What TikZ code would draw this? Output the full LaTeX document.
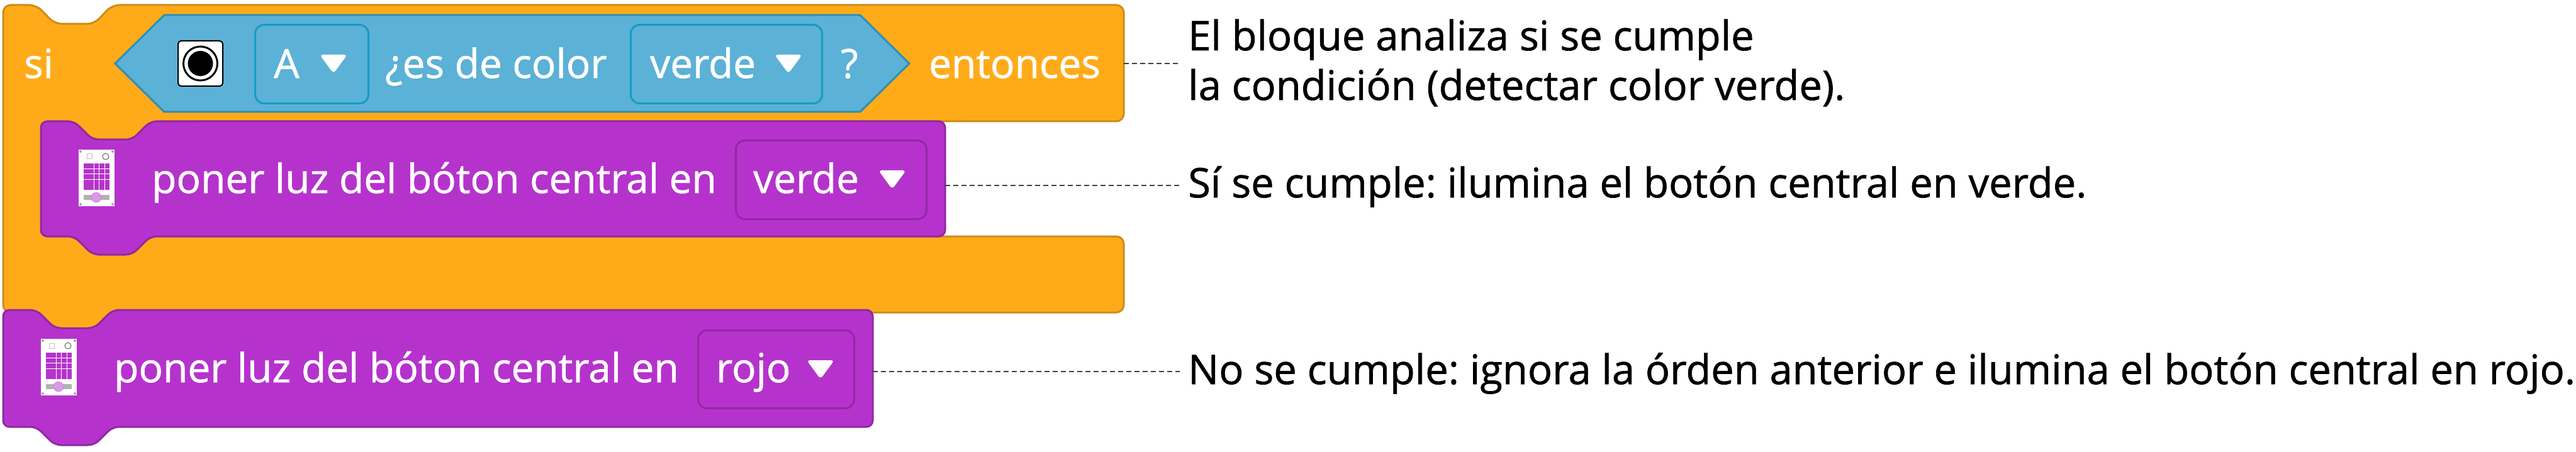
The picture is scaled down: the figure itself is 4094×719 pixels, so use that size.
\documentclass[tikz,border=0pt]{standalone}
\usepackage{fontspec}
\setmainfont[FakeBold=1]{Open Sans}
\definecolor{ctrlfill}{HTML}{FFAB19}
\definecolor{ctrledge}{HTML}{CF8B17}
\definecolor{huefill}{HTML}{B533CC}
\definecolor{hueedge}{HTML}{9128A3}
\definecolor{sensefill}{HTML}{5CB1D6}
\definecolor{senseedge}{HTML}{2E8EB8}
\definecolor{senseline}{HTML}{139CC6}
\tikzset{
	x=1pt,y=-1pt,
	blocktext/.style={anchor=base west,inner sep=0pt,text=white,font=\fontsize{64}{64}\selectfont},
	notetext/.style={anchor=base west,inner xsep=13pt,inner ysep=0pt,align=left,text=black,font=\frenchspacing\fontsize{65}{79}\selectfont},
	dropbox/.style={anchor=north west,draw,line width=3pt,rounded corners=14pt,inner sep=0pt},
	leader/.style={draw=black!75,line width=1.5pt,dash pattern=on 8pt off 5pt},
}
% stack block with its notch on top and its tab below
\newcommand{\hueblock}[4]{
	\draw [fill=huefill,draw=hueedge,line width=3pt,rounded corners=10pt]
		(#1,#3+60) -- (#1,#3) -- (#1+53,#3) -- (#1+82,#3+29) -- (#1+145,#3+29) -- (#1+174,#3)
		-- (#2,#3) -- (#2,#4) -- (#1+174,#4) -- (#1+145,#4+29) -- (#1+82,#4+29) -- (#1+53,#4)
		-- (#1,#4) -- cycle;
}
\newcommand{\droptri}[2]{
	\fill [white,rounded corners=5pt] (#1-2,#2-1) -- (#1+42,#2-1) -- (#1+20,#2+29) -- cycle;
}
\newcommand{\boardicon}[2]{
	\begin{scope}[shift={(#1,#2)}]
		\fill [white] (0,0) rectangle (57,90);
		\foreach \corner in {(3,3),(54,3),(3,87),(54,87)}
			\fill [black!35] \corner circle (2);
		\draw [black!25,line width=1pt] (13,7) rectangle (21,15);
		\draw [black!60,line width=1pt] (43,11) circle (5);
		\foreach \col in {0,...,4}
			\foreach \row in {0,...,4}
				\fill [huefill] (8+\col*8.4,22+\row*8.6) rectangle +(7.6,7.8);
		\fill [black!30] (8,72) rectangle (49,80);
		\fill [huefill!50,draw=huefill!70] (28,76) circle (8);
	\end{scope}
}
\begin{document}
\begin{tikzpicture}
	\useasboundingbox (0,0) rectangle (4094,719);
	% orange block
	\draw [fill=ctrlfill,draw=ctrledge,line width=3pt,rounded corners=12pt]
		(5,60) -- (5,8) -- (58,8) -- (87,38) -- (150,38) -- (178,8) -- (1786,8) -- (1786,193)
		-- (300,193) -- (300,376) -- (1786,376) -- (1786,497) -- (178,497) -- (150,523)
		-- (87,523) -- (58,497) -- (5,497) -- cycle;
	\draw [fill=sensefill,draw=senseedge,line width=3pt]
		(183,101) -- (261,24) -- (1367,24) -- (1445,101) -- (1367,178) -- (261,178) -- cycle;
	\hueblock{65}{1502}{193}{376}
	\hueblock{5}{1387}{493}{679}
	% first row
	\node [blocktext] (si) at (38,124) {si};
	\node [anchor=north west,draw=black,fill=white,line width=2pt,rounded corners=5pt,minimum width=71pt,minimum height=72pt,inner sep=0pt] (eye) at (282,64) {};
	\draw [black,line width=3pt] (eye.center) circle (27);
	\fill [black] (eye.center) circle (20);
	\node [dropbox,draw=senseline,minimum width=180pt,minimum height=125pt] (sideA) at (404,38) {};
	\node [blocktext] (sideAtext) at (435,124) {A};
	\droptri{510}{88}
	\node [blocktext] (escolor) at (612,124) {¿es de color};
	\node [dropbox,draw=senseline,minimum width=304pt,minimum height=125pt] (huebox) at (1001,38) {};
	\node [blocktext] (hueboxtext) at (1033,124) {verde};
	\droptri{1233}{88}
	\node [blocktext] (ask) at (1336,124) {?};
	\node [blocktext] (entonces) at (1476,124) {entonces};
	% second row
	\boardicon{125}{238}
	\node [blocktext] (ponerA) at (241,307) {poner luz del bóton central en};
	\node [dropbox,draw=hueedge,minimum width=303pt,minimum height=125pt] (greenbox) at (1168,222) {};
	\node [blocktext] (greentext) at (1197,307) {verde};
	\droptri{1398}{272}
	% third row
	\boardicon{65}{539}
	\node [blocktext] (ponerB) at (181,608) {poner luz del bóton central en};
	\node [dropbox,draw=hueedge,minimum width=248pt,minimum height=124pt] (redbox) at (1108,524) {};
	\node [blocktext] (redtext) at (1138,608) {rojo};
	\droptri{1284}{574}
	% notes
	\coordinate (ifedge) at (1786,101);
	\coordinate (greenedge) at (1502,295);
	\coordinate (rededge) at (1387,591);
	\node [notetext] (notecond) at (1875,159) {El bloque analiza si se cumple\\la condición (detectar color verde).};
	\node [notetext] (notegreen) at (1875,314) {Sí se cumple: ilumina el botón central en verde.};
	\node [notetext] (notered) at (1875,611) {No se cumple: ignora la órden anterior e ilumina el botón central en rojo.};
	\draw [leader] (ifedge) -- (ifedge -| notecond.west);
	\draw [leader] (greenedge) -- (greenedge -| notegreen.west);
	\draw [leader] (rededge) -- (rededge -| notered.west);
\end{tikzpicture}
\end{document}
